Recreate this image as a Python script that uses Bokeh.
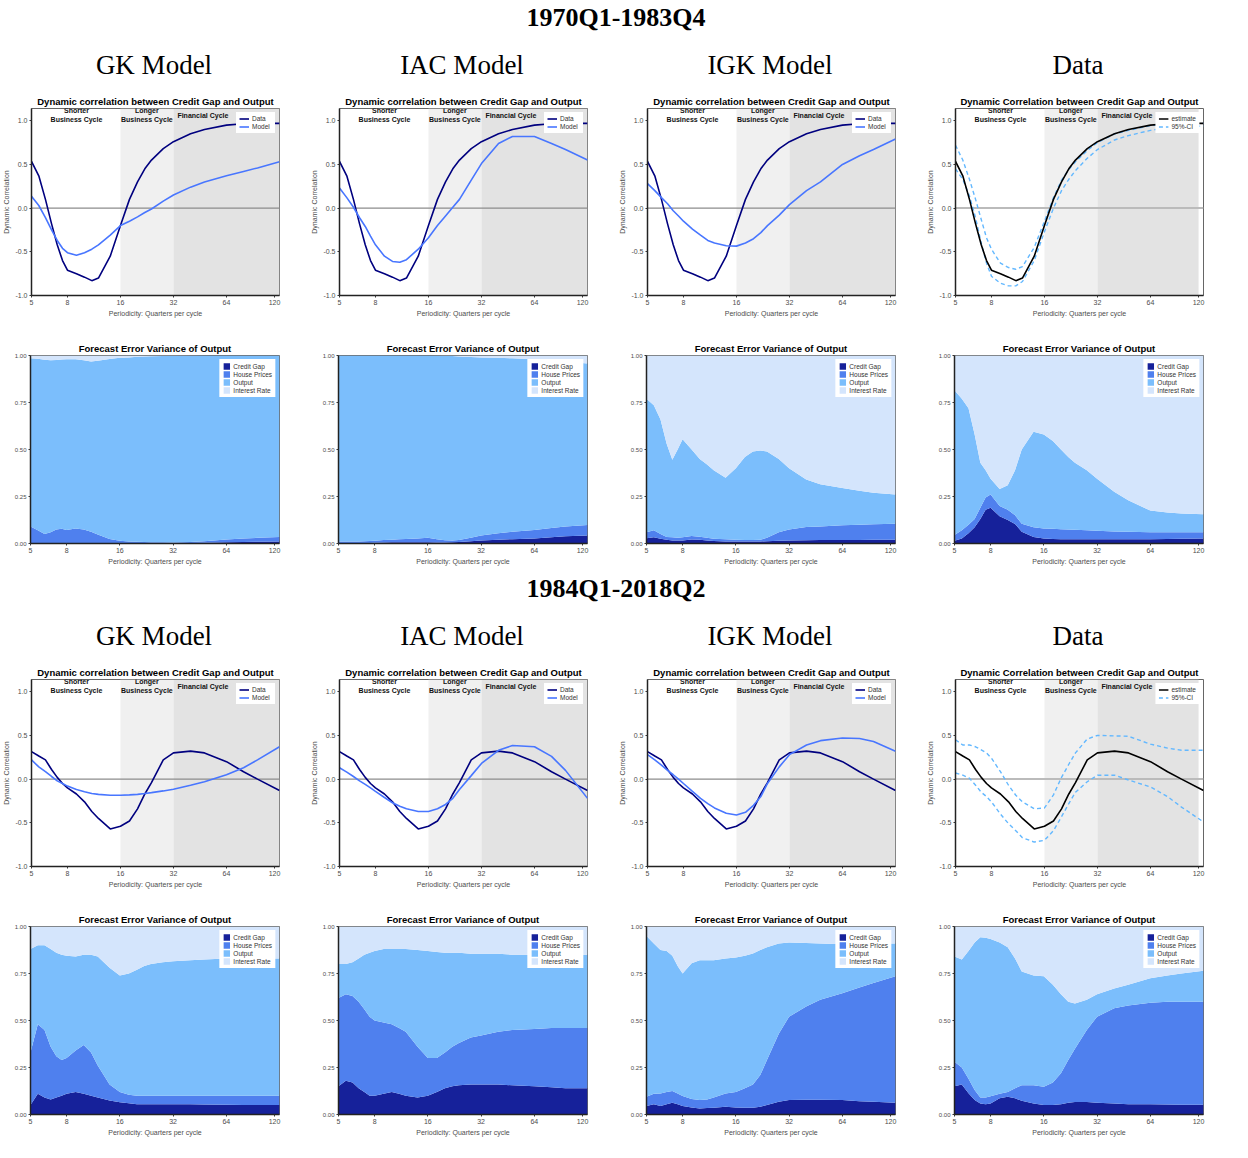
from bokeh.plotting import figure
from bokeh.layouts import column, row
from bokeh.models import (Div, Range1d, FixedTicker, NumeralTickFormatter, Span,
                          BoxAnnotation, Legend, LegendItem, ColumnDataSource, Label)
from bokeh.embed import file_html
from bokeh.resources import INLINE

# ---------------- data ----------------
periods = [5, 5.5, 6, 6.5, 7, 7.5, 8, 9, 10, 11, 12, 14, 16, 18, 20, 22, 24, 28, 32, 40, 48, 64, 80, 96, 128]
x_ticks = [5, 8, 16, 32, 64, 120]
corr_y_ticks = [-1.0, -0.5, 0.0, 0.5, 1.0]
fev_y_ticks = [0.0, 0.25, 0.5, 0.75, 1.0]
period_titles = ["1970Q1-1983Q4", "1984Q1-2018Q2"]
model_titles = ["GK Model", "IAC Model", "IGK Model", "Data"]
fev_labels = ["Credit Gap", "House Prices", "Output", "Interest Rate"]

# dynamic correlation, 1970Q1-1983Q4
corr_data_7083 = [0.535, 0.37, 0.10, -0.18, -0.42, -0.60, -0.71, -0.75, -0.79, -0.83, -0.80, -0.55, -0.20,
                  0.10, 0.30, 0.45, 0.55, 0.68, 0.76, 0.85, 0.90, 0.95, 0.965, 0.97, 0.97]
corr_gk_7083 = [0.135, 0.03, -0.11, -0.25, -0.37, -0.46, -0.51, -0.54, -0.51, -0.47, -0.42, -0.31, -0.20,
                -0.15, -0.10, -0.05, -0.01, 0.08, 0.15, 0.24, 0.30, 0.37, 0.42, 0.46, 0.53]
corr_iac_7083 = [0.23, 0.12, 0.01, -0.11, -0.21, -0.32, -0.42, -0.55, -0.61, -0.62, -0.59, -0.47, -0.34,
                 -0.20, -0.09, 0.01, 0.10, 0.32, 0.51, 0.74, 0.82, 0.82, 0.74, 0.67, 0.55]
corr_igk_7083 = [0.28, 0.20, 0.12, 0.05, -0.03, -0.09, -0.15, -0.24, -0.31, -0.37, -0.40, -0.43, -0.435,
                 -0.40, -0.35, -0.28, -0.20, -0.08, 0.04, 0.20, 0.30, 0.50, 0.60, 0.67, 0.79]
ci_a_7083 = [0.72, 0.55, 0.33, 0.10, -0.13, -0.34, -0.47, -0.63, -0.68, -0.70, -0.67, -0.45, -0.15,
             0.12, 0.32, 0.44, 0.53, 0.66, 0.75, 0.85, 0.89, 0.945, 0.96, 0.97, 0.97]
ci_b_7083 = [0.45, 0.33, 0.14, -0.11, -0.40, -0.63, -0.78, -0.86, -0.89, -0.89, -0.84, -0.60, -0.27,
             0.0, 0.20, 0.33, 0.43, 0.57, 0.67, 0.78, 0.83, 0.89, 0.92, 0.93, 0.94]

# dynamic correlation, 1984Q1-2018Q2
corr_data_8418 = [0.315, 0.265, 0.22, 0.11, 0.02, -0.05, -0.10, -0.17, -0.26, -0.37, -0.45, -0.57, -0.54,
                  -0.48, -0.34, -0.17, -0.04, 0.22, 0.30, 0.32, 0.30, 0.20, 0.085, 0.0, -0.13]
corr_gk_8418 = [0.22, 0.14, 0.085, 0.03, -0.02, -0.05, -0.08, -0.12, -0.145, -0.165, -0.175, -0.185, -0.185,
                -0.18, -0.175, -0.165, -0.155, -0.135, -0.115, -0.07, -0.03, 0.05, 0.13, 0.22, 0.37]
corr_iac_8418 = [0.13, 0.08, 0.03, -0.02, -0.06, -0.10, -0.14, -0.21, -0.27, -0.31, -0.34, -0.37, -0.37,
                 -0.34, -0.29, -0.22, -0.12, 0.04, 0.18, 0.33, 0.385, 0.37, 0.26, 0.10, -0.22]
corr_igk_8418 = [0.28, 0.22, 0.16, 0.10, 0.05, 0.0, -0.05, -0.14, -0.22, -0.28, -0.33, -0.39, -0.41,
                 -0.38, -0.30, -0.20, -0.05, 0.14, 0.28, 0.39, 0.44, 0.47, 0.465, 0.43, 0.32]
ci_a_8418 = [0.45, 0.39, 0.39, 0.37, 0.335, 0.30, 0.24, 0.085, -0.07, -0.185, -0.26, -0.34, -0.33,
             -0.18, 0.02, 0.17, 0.30, 0.46, 0.50, 0.495, 0.49, 0.40, 0.355, 0.33, 0.33]
ci_b_8418 = [0.07, 0.045, 0.01, -0.07, -0.15, -0.20, -0.26, -0.40, -0.51, -0.59, -0.67, -0.72, -0.70,
             -0.59, -0.43, -0.28, -0.15, -0.03, 0.045, 0.045, -0.01, -0.09, -0.20, -0.32, -0.49]

# forecast error variance of output: cumulative upper edges of
# Credit Gap, Credit Gap + House Prices, ... + Output (Interest Rate fills to 1)
fev_gk_7083_cg = [0.002] * 19 + [0.003, 0.004, 0.006, 0.008, 0.009, 0.010]
fev_gk_7083_hp = [0.09, 0.07, 0.05, 0.06, 0.075, 0.078, 0.072, 0.08, 0.075, 0.063, 0.048, 0.024, 0.014,
                  0.011, 0.009, 0.008, 0.007, 0.006, 0.005, 0.008, 0.012, 0.021, 0.026, 0.030, 0.034]
fev_gk_7083_out = [0.985, 0.983, 0.978, 0.975, 0.976, 0.979, 0.98, 0.98, 0.975, 0.968, 0.972, 0.982, 0.988,
                   0.99, 0.993, 0.995, 0.996, 0.997, 0.998, 0.999, 1.0, 1.0, 1.0, 1.0, 1.0]

fev_iac_7083_cg = [0.002, 0.002, 0.002, 0.002, 0.003, 0.003, 0.004, 0.005, 0.006, 0.006, 0.006, 0.006, 0.006,
                   0.005, 0.005, 0.006, 0.008, 0.012, 0.016, 0.020, 0.023, 0.027, 0.033, 0.038, 0.043]
fev_iac_7083_hp = [0.01, 0.01, 0.01, 0.011, 0.012, 0.013, 0.015, 0.018, 0.02, 0.022, 0.024, 0.027, 0.03,
                   0.022, 0.017, 0.016, 0.018, 0.03, 0.043, 0.055, 0.062, 0.072, 0.082, 0.09, 0.098]
fev_iac_7083_out = [1.0] * 13 + [0.999, 0.998, 0.997, 0.995, 0.992, 0.99, 0.988, 0.985, 0.98, 0.975, 0.968, 0.958]

fev_igk_7083_cg = [0.028, 0.033, 0.025, 0.02, 0.016, 0.016, 0.016, 0.021, 0.02, 0.016, 0.013, 0.011, 0.011,
                   0.011, 0.011, 0.011, 0.012, 0.015, 0.016, 0.017, 0.018, 0.018, 0.019, 0.02, 0.02]
fev_igk_7083_hp = [0.06, 0.07, 0.05, 0.035, 0.033, 0.03, 0.033, 0.04, 0.036, 0.03, 0.025, 0.022, 0.02,
                   0.018, 0.018, 0.02, 0.03, 0.06, 0.075, 0.088, 0.091, 0.097, 0.10, 0.102, 0.105]
fev_igk_7083_out = [0.77, 0.735, 0.66, 0.53, 0.445, 0.50, 0.555, 0.50, 0.45, 0.42, 0.39, 0.35, 0.40,
                    0.46, 0.49, 0.495, 0.49, 0.45, 0.40, 0.34, 0.315, 0.295, 0.28, 0.27, 0.26]

fev_data_7083_cg = [0.014, 0.027, 0.054, 0.086, 0.13, 0.18, 0.19, 0.145, 0.125, 0.104, 0.063, 0.034, 0.027,
                    0.024, 0.023, 0.023, 0.023, 0.023, 0.023, 0.023, 0.023, 0.023, 0.024, 0.025, 0.027]
fev_data_7083_hp = [0.045, 0.07, 0.10, 0.13, 0.19, 0.245, 0.26, 0.20, 0.18, 0.15, 0.105, 0.086, 0.08,
                    0.078, 0.076, 0.075, 0.073, 0.07, 0.068, 0.064, 0.062, 0.06, 0.06, 0.06, 0.06]
fev_data_7083_out = [0.815, 0.77, 0.72, 0.58, 0.43, 0.39, 0.345, 0.29, 0.31, 0.39, 0.50, 0.595, 0.58,
                     0.545, 0.50, 0.46, 0.43, 0.39, 0.345, 0.275, 0.23, 0.175, 0.165, 0.16, 0.155]

fev_gk_8418_cg = [0.05, 0.11, 0.09, 0.08, 0.09, 0.10, 0.11, 0.12, 0.11, 0.10, 0.09, 0.075, 0.065,
                  0.06, 0.055, 0.055, 0.055, 0.055, 0.055, 0.055, 0.053, 0.052, 0.05, 0.05, 0.05]
fev_gk_8418_hp = [0.33, 0.48, 0.45, 0.36, 0.31, 0.29, 0.30, 0.34, 0.37, 0.33, 0.26, 0.16, 0.12,
                  0.105, 0.10, 0.10, 0.10, 0.10, 0.10, 0.10, 0.10, 0.10, 0.10, 0.10, 0.10]
fev_gk_8418_out = [0.88, 0.90, 0.90, 0.88, 0.86, 0.85, 0.845, 0.84, 0.85, 0.85, 0.84, 0.78, 0.74,
                   0.75, 0.77, 0.79, 0.80, 0.81, 0.815, 0.82, 0.825, 0.83, 0.83, 0.83, 0.83]

fev_iac_8418_cg = [0.15, 0.18, 0.17, 0.14, 0.12, 0.10, 0.10, 0.11, 0.12, 0.11, 0.10, 0.09, 0.10,
                   0.12, 0.14, 0.15, 0.155, 0.16, 0.16, 0.16, 0.155, 0.15, 0.145, 0.14, 0.14]
fev_iac_8418_hp = [0.62, 0.64, 0.63, 0.60, 0.56, 0.52, 0.50, 0.49, 0.48, 0.46, 0.44, 0.36, 0.30,
                   0.30, 0.33, 0.36, 0.38, 0.41, 0.42, 0.44, 0.45, 0.455, 0.46, 0.46, 0.46]
fev_iac_8418_out = [0.80, 0.80, 0.81, 0.83, 0.85, 0.86, 0.87, 0.88, 0.88, 0.88, 0.88, 0.875, 0.87,
                    0.865, 0.86, 0.86, 0.86, 0.855, 0.855, 0.855, 0.85, 0.85, 0.85, 0.85, 0.85]

fev_igk_8418_cg = [0.045, 0.054, 0.045, 0.055, 0.062, 0.055, 0.045, 0.037, 0.032, 0.034, 0.036, 0.041, 0.037,
                   0.036, 0.036, 0.041, 0.05, 0.068, 0.077, 0.079, 0.079, 0.077, 0.071, 0.068, 0.062]
fev_igk_8418_hp = [0.095, 0.11, 0.112, 0.12, 0.125, 0.112, 0.098, 0.082, 0.077, 0.08, 0.091, 0.112, 0.12,
                   0.14, 0.16, 0.21, 0.29, 0.43, 0.52, 0.575, 0.61, 0.645, 0.675, 0.70, 0.735]
fev_igk_8418_out = [0.95, 0.91, 0.875, 0.87, 0.845, 0.79, 0.75, 0.805, 0.82, 0.82, 0.82, 0.83, 0.835,
                    0.845, 0.857, 0.875, 0.89, 0.91, 0.915, 0.912, 0.91, 0.905, 0.905, 0.91, 0.91]

fev_data_8418_cg = [0.15, 0.16, 0.113, 0.077, 0.059, 0.055, 0.059, 0.086, 0.095, 0.086, 0.073, 0.059, 0.05,
                    0.05, 0.055, 0.062, 0.066, 0.066, 0.062, 0.059, 0.055, 0.054, 0.053, 0.052, 0.052]
fev_data_8418_hp = [0.28, 0.25, 0.19, 0.13, 0.09, 0.09, 0.097, 0.11, 0.12, 0.14, 0.155, 0.155, 0.148,
                    0.17, 0.22, 0.29, 0.35, 0.45, 0.52, 0.565, 0.58, 0.595, 0.60, 0.60, 0.60]
fev_data_8418_out = [0.84, 0.825, 0.87, 0.915, 0.943, 0.94, 0.934, 0.915, 0.89, 0.83, 0.76, 0.74, 0.735,
                     0.69, 0.64, 0.60, 0.59, 0.61, 0.64, 0.67, 0.69, 0.725, 0.74, 0.75, 0.765]

# ---------------- styling ----------------
SANS = "Liberation Sans"
SERIF = "Liberation Serif"
COL_W = 308
DATA_COLOR = "#00007F"
MODEL_COLOR = "#4876FF"
CI_COLOR = "#63B8FF"
FEV_COLORS = ["#16219A", "#4F80EE", "#7BBEFC", "#D4E5FC"]
AX_TEXT = "#4d4d4d"


def style_axes(p, y_fmt, y_ticks, y_label=None):
    p.xaxis.ticker = FixedTicker(ticks=x_ticks, minor_ticks=[])
    p.xaxis.formatter = NumeralTickFormatter(format="0")
    p.yaxis.ticker = FixedTicker(ticks=y_ticks, minor_ticks=[])
    p.yaxis.formatter = NumeralTickFormatter(format=y_fmt)
    p.xaxis.axis_label = "Periodicity: Quarters per cycle"
    if y_label:
        p.yaxis.axis_label = y_label
    for ax in (p.xaxis[0], p.yaxis[0]):
        ax.major_label_text_font = SANS
        ax.major_label_text_font_size = "7px"
        ax.major_label_text_color = AX_TEXT
        ax.axis_label_text_font = SANS
        ax.axis_label_text_font_size = "7px"
        ax.axis_label_text_font_style = "normal"
        ax.axis_label_text_color = AX_TEXT
        ax.axis_label_standoff = 2
        ax.major_label_standoff = 2
        ax.major_tick_out = 2
        ax.major_tick_in = 0
        ax.major_tick_line_color = "#333333"
        ax.axis_line_color = "#222222"
        ax.axis_line_width = 1.5
    p.grid.visible = False
    p.outline_line_color = "#666666"
    p.outline_line_width = 1
    p.title.align = "center"
    p.title.text_font = SANS
    p.title.text_font_size = "9.5px"
    p.title.text_font_style = "bold"
    p.title.text_color = "black"
    p.title.standoff = 3


def small_legend(items):
    return Legend(items=items, location="top_right", label_text_font=SANS,
                  label_text_font_size="6.5px", label_text_color="#333333",
                  glyph_width=10, glyph_height=7, label_height=7, label_standoff=3,
                  spacing=1, padding=3, margin=4, border_line_alpha=0,
                  background_fill_color="white", background_fill_alpha=1)


def corr_panel(est, second, ci_lo=None, data_panel=False):
    p = figure(width=COL_W, height=245, x_axis_type="log",
               x_range=Range1d(5, 128), y_range=Range1d(-1.0, 1.14),
               output_backend="svg", toolbar_location=None,
               min_border_left=30, min_border_right=29, min_border_top=22, min_border_bottom=36,
               title=("Dynamic Correlation between Credit Gap and Output" if data_panel
                      else "Dynamic correlation between Credit Gap and Output"))
    band_right = 120 if data_panel else 128
    p.add_layout(BoxAnnotation(left=16, right=32, fill_color="#F0F0F0", fill_alpha=1,
                               line_alpha=0, level="underlay"))
    p.add_layout(BoxAnnotation(left=32, right=band_right, fill_color="#E3E3E3", fill_alpha=1,
                               line_alpha=0, level="underlay"))
    p.add_layout(Span(location=0, dimension="width",
                      line_color="#BBBBBB" if data_panel else "#8C8C8C",
                      line_width=2 if data_panel else 1.2, level="underlay"))
    for x, y, t in [(9, 1.115, "Shorter"), (9, 1.015, "Business Cycle"),
                    (22.6, 1.115, "Longer"), (22.6, 1.015, "Business Cycle"),
                    (47, 1.065, "Financial Cycle")]:
        p.add_layout(Label(x=x, y=y, text=t, text_align="center", text_baseline="middle",
                           text_font=SANS, text_font_size="7px", text_font_style="bold",
                           text_color="#111111"))
    if data_panel:
        src = ColumnDataSource(dict(x=periods, est=est, hi=second, lo=ci_lo))
        r_hi = p.line("x", "hi", source=src, line_color=CI_COLOR, line_width=1.4, line_dash="4 3")
        p.line("x", "lo", source=src, line_color=CI_COLOR, line_width=1.4, line_dash="4 3")
        r_est = p.line("x", "est", source=src, line_color="black", line_width=1.6)
        items = [LegendItem(label="estimate", renderers=[r_est]),
                 LegendItem(label="95%-CI", renderers=[r_hi])]
    else:
        src = ColumnDataSource(dict(x=periods, data=est, model=second))
        r_d = p.line("x", "data", source=src, line_color=DATA_COLOR, line_width=1.6)
        r_m = p.line("x", "model", source=src, line_color=MODEL_COLOR, line_width=1.6)
        items = [LegendItem(label="Data", renderers=[r_d]),
                 LegendItem(label="Model", renderers=[r_m])]
    p.add_layout(small_legend(items))
    style_axes(p, "0.0", corr_y_ticks, "Dynamic Correlation")
    return p


def fev_panel(cum_cg, cum_hp, cum_out):
    p = figure(width=COL_W, height=240, x_axis_type="log",
               x_range=Range1d(5, 128), y_range=Range1d(0, 1),
               output_backend="svg", toolbar_location=None,
               min_border_left=30, min_border_right=29, min_border_top=24, min_border_bottom=28,
               title="Forecast Error Variance of Output")
    src = ColumnDataSource(dict(x=periods, cg=cum_cg, hp=cum_hp, out=cum_out))
    r1 = p.varea(x="x", y1=0, y2="cg", source=src, fill_color=FEV_COLORS[0])
    r2 = p.varea(x="x", y1="cg", y2="hp", source=src, fill_color=FEV_COLORS[1])
    r3 = p.varea(x="x", y1="hp", y2="out", source=src, fill_color=FEV_COLORS[2])
    r4 = p.varea(x="x", y1="out", y2=1, source=src, fill_color=FEV_COLORS[3])
    items = [LegendItem(label=l, renderers=[r]) for l, r in zip(fev_labels, [r1, r2, r3, r4])]
    leg = small_legend(items)
    leg.glyph_width = 8
    leg.glyph_height = 8
    leg.label_height = 8
    leg.spacing = 0
    p.add_layout(leg)
    style_axes(p, "0.00", fev_y_ticks)
    p.yaxis.major_label_text_font_size = "6px"
    return p


def title_div(text):
    html = ('<div style="width:1232px;text-align:center;font-family:\'%s\';font-weight:bold;'
            'font-size:26px;line-height:36px;color:#000;">%s</div>' % (SERIF, text))
    return Div(text=html, width=1232, height=36, margin=0)


def model_div(text):
    html = ('<div style="width:%dpx;text-align:center;font-family:\'%s\';font-size:27px;'
            'padding-top:12px;line-height:34px;color:#000;">%s</div>' % (COL_W, SERIF, text))
    return Div(text=html, width=COL_W, height=50, margin=0)


blocks = [
    (period_titles[0],
     [(corr_data_7083, corr_gk_7083, None, False), (corr_data_7083, corr_iac_7083, None, False),
      (corr_data_7083, corr_igk_7083, None, False), (corr_data_7083, ci_a_7083, ci_b_7083, True)],
     [(fev_gk_7083_cg, fev_gk_7083_hp, fev_gk_7083_out), (fev_iac_7083_cg, fev_iac_7083_hp, fev_iac_7083_out),
      (fev_igk_7083_cg, fev_igk_7083_hp, fev_igk_7083_out), (fev_data_7083_cg, fev_data_7083_hp, fev_data_7083_out)]),
    (period_titles[1],
     [(corr_data_8418, corr_gk_8418, None, False), (corr_data_8418, corr_iac_8418, None, False),
      (corr_data_8418, corr_igk_8418, None, False), (corr_data_8418, ci_a_8418, ci_b_8418, True)],
     [(fev_gk_8418_cg, fev_gk_8418_hp, fev_gk_8418_out), (fev_iac_8418_cg, fev_iac_8418_hp, fev_iac_8418_out),
      (fev_igk_8418_cg, fev_igk_8418_hp, fev_igk_8418_out), (fev_data_8418_cg, fev_data_8418_hp, fev_data_8418_out)]),
]

children = []
for ptitle, corr_specs, fev_specs in blocks:
    children.append(title_div(ptitle))
    children.append(row([model_div(t) for t in model_titles], spacing=0))
    children.append(row([corr_panel(a, b, c, d) for a, b, c, d in corr_specs], spacing=0))
    children.append(row([fev_panel(a, b, c) for a, b, c in fev_specs], spacing=0))

layout = column(children, spacing=0)

open("out.html", "w").write(file_html(layout, INLINE))
